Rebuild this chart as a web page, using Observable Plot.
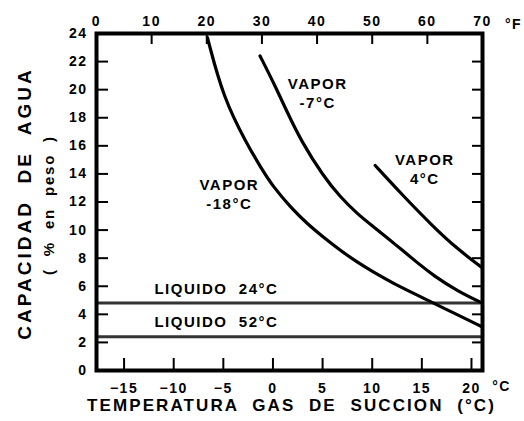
<!DOCTYPE html>
<html><head><meta charset="utf-8">
<script src="https://cdn.jsdelivr.net/npm/d3@7"></script>
<script src="https://cdn.jsdelivr.net/npm/@observablehq/plot@0.6"></script>
<style>
body{margin:0;background:#fff}
#chart svg text{letter-spacing:1.5px}
</style></head><body><div id="chart"></div>
<script>
// Tick values
const fahrenheitTicks = [0, 10, 20, 30, 40, 50, 60, 70];
const celsiusTicks = [-15, -10, -5, 0, 5, 10, 15, 20];
const yTicks = [0, 2, 4, 6, 8, 10, 12, 14, 16, 18, 20, 22, 24];

// Vapor curves (suction gas temperature °C -> water capacity % by weight)
const vaporM18x = [-6.6, -5.0, -2.6, -1.26, 0.05, 1.77, 3.45, 5.09, 6.8, 8.49, 10.13, 12.14, 14.6, 17.9, 21.1];
const vaporM18y = [23.7, 19.4, 16.1, 14.5, 13.05, 11.64, 10.45, 9.49, 8.55, 7.71, 7.0, 6.2, 5.35, 4.2, 3.1];
const vaporM7x = [-1.3, 0.2, 1.5, 2.8, 5.1, 6.8, 8.5, 10.2, 11.8, 12.9, 14.5, 16.2, 18.6, 21.1];
const vaporM7y = [22.4, 20.3, 18.3, 16.4, 13.8, 12.35, 11.15, 10.2, 9.27, 8.65, 7.7, 6.75, 5.65, 4.8];
const vapor4x = [10.3, 12.9, 16.2, 18.6, 21.1];
const vapor4y = [14.6, 12.6, 10.2, 8.65, 7.3];

// Liquid levels
const liquidLevels = [4.8, 2.4];

// Annotations
const labelText = ["VAPOR\n-18°C", "VAPOR\n-7°C", "VAPOR\n4°C", "LIQUIDO  24°C", "LIQUIDO  52°C"];
const labelX = [-4.4, 4.5, 15.3, -5.7, -5.7];
const labelY = [12.6, 19.8, 14.4, 5.9, 3.56];

const toC = f => (f - 32) * 5 / 9;
const toF = c => Math.round(c * 9 / 5 + 32);
const zip = (xs, ys) => xs.map((x, i) => ({x, y: ys[i]}));
const curves = [zip(vaporM18x, vaporM18y), zip(vaporM7x, vaporM7y), zip(vapor4x, vapor4y)];
const labels = labelText.map((t, i) => ({t, x: labelX[i], y: labelY[i]}));

const chart = Plot.plot({
  width: 524, height: 421,
  marginLeft: 96, marginRight: 42, marginTop: 33, marginBottom: 51,
  style: {fontFamily: "'Liberation Sans', Arial, sans-serif", fontWeight: "bold", color: "#000", background: "#fff"},
  x: {domain: [toC(0), toC(70)]},
  y: {domain: [0, 24]},
  marks: [
    Plot.ruleY(liquidLevels, {stroke: "#333", strokeWidth: 3}),
    ...curves.map(c => Plot.line(c, {x: "x", y: "y", curve: "basis", stroke: "#000", strokeWidth: 3.2})),
    Plot.text(labels, {x: "x", y: "y", text: "t", fontSize: 15, lineHeight: 1.27, fill: "#000"}),
    Plot.frame({stroke: "#000", strokeWidth: 4}),
    Plot.axisY(yTicks, {anchor: "left", tickSize: -12, fill: "none", strokeWidth: 2, label: null}),
    Plot.axisY(yTicks.slice(1, -1), {anchor: "right", tickSize: -11, fill: "none", strokeWidth: 2, label: null}),
    Plot.axisY(yTicks, {anchor: "left", tickSize: 0, tickPadding: 9, fontSize: 14, label: null}),
    Plot.axisX(celsiusTicks, {anchor: "bottom", tickSize: -12, fill: "none", strokeWidth: 2, label: null}),
    Plot.axisX(celsiusTicks, {anchor: "bottom", tickSize: 0, tickPadding: 13, fontSize: 14, label: null}),
    Plot.axisX(fahrenheitTicks.map(toC), {anchor: "top", tickSize: -10, fill: "none", strokeWidth: 2, label: null}),
    Plot.axisX(fahrenheitTicks.map(toC), {anchor: "top", tickSize: 0, tickPadding: 8, tickFormat: toF, fontSize: 14, label: null}),
    Plot.text(["°C"], {frameAnchor: "bottom-right", textAnchor: "middle", dx: 19, dy: 20, fontSize: 14}),
    Plot.text(["°F"], {frameAnchor: "top-right", textAnchor: "middle", dx: 31, dy: -14, fontSize: 14}),
    Plot.text(["TEMPERATURA  GAS  DE  SUCCION  (°C)"], {frameAnchor: "bottom", textAnchor: "middle", dx: 2, dy: 40, fontSize: 17}),
    Plot.text(["CAPACIDAD  DE  AGUA"], {frameAnchor: "left", textAnchor: "middle", dx: -72, dy: 1.5, rotate: -90, fontSize: 19}),
    Plot.text(["(  %  en  peso  )"], {frameAnchor: "left", textAnchor: "middle", dx: -47, dy: 3, rotate: -90, fontSize: 15})
  ]
});
document.getElementById("chart").appendChild(chart);
d3.select(chart).selectAll("text")
  .filter(function() { return this.textContent.startsWith("TEMPERATURA"); })
  .style("letter-spacing", "2.1px");
d3.select(chart).selectAll("text")
  .filter(function() { return this.textContent.startsWith("CAPACIDAD"); })
  .style("letter-spacing", "3px");
d3.select(chart).selectAll("text")
  .filter(function() { return this.textContent.startsWith("("); })
  .style("letter-spacing", "1.8px");
</script>
</body></html>
